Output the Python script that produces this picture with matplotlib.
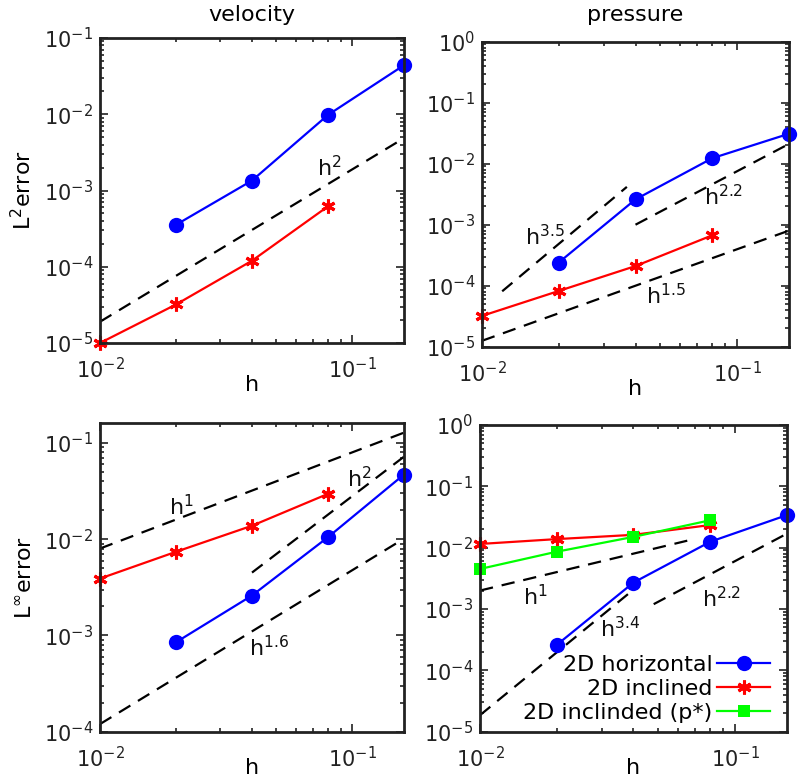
import numpy as np
import matplotlib
matplotlib.use("Agg")
import matplotlib.pyplot as plt
from matplotlib.ticker import LogLocator, NullFormatter

# ---- data ----
h = [0.01, 0.02, 0.04, 0.08, 0.16]

vel_L2_horizontal = [0.02, 0.04, 0.08, 0.16], [3.55e-4, 1.35e-3, 9.8e-3, 0.044]
vel_L2_inclined = [0.01, 0.02, 0.04, 0.08], [1.0e-5, 3.2e-5, 1.2e-4, 6.2e-4]

pre_L2_horizontal = [0.02, 0.04, 0.08, 0.16], [2.4e-4, 2.6e-3, 1.23e-2, 0.031]
pre_L2_inclined = [0.01, 0.02, 0.04, 0.08], [3.2e-5, 8.2e-5, 2.1e-4, 6.7e-4]

vel_Linf_horizontal = [0.02, 0.04, 0.08, 0.16], [8.5e-4, 2.6e-3, 1.05e-2, 0.047]
vel_Linf_inclined = [0.01, 0.02, 0.04, 0.08], [3.9e-3, 7.4e-3, 1.38e-2, 0.0296]

pre_Linf_horizontal = [0.02, 0.04, 0.08, 0.16], [2.6e-4, 2.7e-3, 1.25e-2, 0.034]
pre_Linf_inclined = [0.01, 0.02, 0.04, 0.08], [0.0115, 0.0138, 0.0162, 0.0234]
pre_Linf_inclined_pstar = [0.01, 0.02, 0.04, 0.08], [4.5e-3, 8.6e-3, 0.015, 0.028]

# reference slopes: (h_start, h_end, y_at_h_start, order, label, label_x, label_y)
ref_TL = [(0.01, 0.16, 1.9e-5, 2.0, r'h$^{2}$', 0.0725, 2.0e-3)]
ref_TR = [(0.012, 0.037, 8.1e-5, 3.5, r'h$^{3.5}$', 0.0148, 6.3e-4),
          (0.04, 0.16, 1.0e-3, 2.2, r'h$^{2.2}$', 0.074, 2.9e-3),
          (0.01, 0.16, 1.25e-5, 1.5, r'h$^{1.5}$', 0.044, 7.0e-5)]
ref_BL = [(0.01, 0.16, 8.0e-3, 1.0, r'h$^{1}$', 0.0188, 2.2e-2),
          (0.04, 0.16, 4.5e-3, 2.0, r'h$^{2}$', 0.095, 4.3e-2),
          (0.01, 0.16, 1.2e-4, 1.6, r'h$^{1.6}$', 0.039, 7.5e-4)]
ref_BR = [(0.01, 0.065, 2.0e-3, 1.0, r'h$^{1}$', 0.0147, 1.6e-3),
          (0.01, 0.04, 1.86e-5, 3.4, r'h$^{3.4}$', 0.0295, 4.8e-4),
          (0.048, 0.16, 1.2e-3, 2.2, r'h$^{2.2}$', 0.074, 1.5e-3)]

labels = ['2D horizontal', '2D inclined', '2D inclinded (p*)']

plt.rcParams['font.family'] = ['DejaVu Sans']
plt.rcParams['mathtext.default'] = 'regular'
FS = 16
TFS = 15

fig = plt.figure(figsize=(8, 7.82), dpi=100)

W, H = 800.0, 782.0
def add_ax(x0, x1, y0, y1):
    return fig.add_axes([x0 / W, (H - y1) / H, (x1 - x0) / W, (y1 - y0) / H])

axTL = add_ax(100, 404, 38, 343)
axTR = add_ax(482, 789, 41.7, 346.7)
axBL = add_ax(100, 404, 423.3, 731.7)
axBR = add_ax(480, 787, 425, 731.7)

blue = dict(color='#0000ff', marker='o', markersize=11, lw=1.6, markeredgewidth=0)
red = dict(color='#ff0000', marker=(6, 2, 0), markersize=10, lw=1.6, markeredgewidth=2.2)
green = dict(color='#00ff00', marker='s', markersize=9, lw=1.6, markeredgewidth=0)

def style(ax, ylim, xpad):
    ax.set_xscale('log')
    ax.set_yscale('log')
    ax.set_xlim(0.01, 0.16)
    ax.set_ylim(*ylim)
    ax.xaxis.set_major_locator(LogLocator(base=10, numticks=10))
    ax.yaxis.set_major_locator(LogLocator(base=10, numticks=10))
    ax.xaxis.set_minor_locator(LogLocator(base=10, subs=np.arange(2, 10), numticks=20))
    ax.yaxis.set_minor_locator(LogLocator(base=10, subs=np.arange(2, 10), numticks=20))
    ax.xaxis.set_minor_formatter(NullFormatter())
    ax.yaxis.set_minor_formatter(NullFormatter())
    ax.tick_params(which='both', direction='in', top=True, right=True,
                   labelsize=TFS, width=1.2, colors='#222222')
    ax.tick_params(which='major', length=6)
    ax.tick_params(which='minor', length=3)
    ax.tick_params(axis='x', which='major', pad=10)
    ax.tick_params(axis='y', which='major', pad=5)
    for s in ax.spines.values():
        s.set_linewidth(2)
        s.set_color('#222222')
    ax.set_xlabel('h', fontsize=FS, labelpad=xpad)

def refs(ax, lst):
    for (h0, h1, y0, p, lab, lx, ly) in lst:
        hh = np.array([h0, h1])
        ax.plot(hh, y0 * (hh / h0) ** p, 'k--', lw=1.6, dashes=(6, 4))
        ax.text(lx, ly, lab, fontsize=FS, ha='left', va='center', color='#111111')

# top-left: velocity L2
style(axTL, (1e-5, 1e-1), -5)
refs(axTL, ref_TL)
axTL.plot(*vel_L2_horizontal, **blue, clip_on=False)
axTL.plot(*vel_L2_inclined, **red, clip_on=False)
axTL.set_title('velocity', fontsize=FS, pad=12)
axTL.set_ylabel(r'L$^{2}$error', fontsize=FS, labelpad=6)

# top-right: pressure L2
style(axTR, (1e-5, 1e0), -5)
refs(axTR, ref_TR)
axTR.plot(*pre_L2_horizontal, **blue, clip_on=False)
axTR.plot(*pre_L2_inclined, **red, clip_on=False)
axTR.set_title('pressure', fontsize=FS, pad=15)

# bottom-left: velocity Linf
style(axBL, (1e-4, 0.16), -9)
refs(axBL, ref_BL)
axBL.plot(*vel_Linf_horizontal, **blue, clip_on=False)
axBL.plot(*vel_Linf_inclined, **red, clip_on=False)
axBL.set_ylabel(r'L$^{\infty}$error', fontsize=FS, labelpad=6)

# bottom-right: pressure Linf
style(axBR, (1e-5, 1e0), -9)
refs(axBR, ref_BR)
l1, = axBR.plot(*pre_Linf_horizontal, **blue, clip_on=False)
l2, = axBR.plot(*pre_Linf_inclined, **red, clip_on=False)
l3, = axBR.plot(*pre_Linf_inclined_pstar, **green, clip_on=False)
axBR.legend([l1, l2, l3], labels, loc='lower right', frameon=False,
            markerfirst=False, fontsize=FS, handlelength=2.4, handletextpad=0.2,
            labelspacing=0.17, borderaxespad=0.0, bbox_to_anchor=(0.975, 0.0))
for t in axBR.get_legend().get_texts():
    t.set_ha('right')

fig.savefig('out.png', dpi=100)
